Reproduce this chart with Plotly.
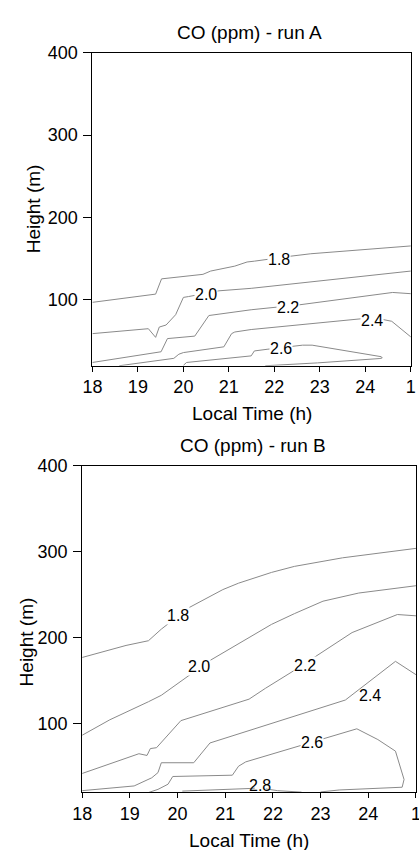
import plotly.graph_objects as go

# ---------------- data (isoline heights) ----------------
TICK_VALS = [18, 19, 20, 21, 22, 23, 24, 25]
TICK_TEXT = ["18", "19", "20", "21", "22", "23", "24", "1"]
Y_TICKS = [100, 200, 300, 400]

# run A
A18_T = [18.0, 19.39, 19.52, 20.43, 20.6, 20.85, 21.13, 21.4, 21.56, 22.35, 22.8, 25.0]
A18_H = [97, 107, 125.5, 131, 135, 138, 141, 146, 147, 153, 156, 165.5]
A20_T = [18.0, 19.23, 19.39, 19.47, 19.62, 19.83, 20.0, 20.11, 20.78, 21.49, 25.0]
A20_H = [59, 65, 54.5, 67, 69.5, 82, 103, 104, 111, 114, 135]
A22_T = [18.0, 18.8, 19.51, 19.65, 20.25, 20.56, 21.49, 22.55, 24.6, 25.0]
A22_H = [24, 31, 37, 53, 56, 81, 88, 94, 109, 107.5]
A24_T = [18.59, 19.79, 19.9, 20.0, 20.89, 21.06, 21.13, 21.49, 23.9, 24.4, 24.58, 25.0]
A24_H = [20, 29, 34, 36, 43, 59, 61, 64, 77, 76, 74, 55]
A26_T = [20.0, 20.07, 21.49, 21.56, 21.84, 22.4, 22.62, 22.83, 24.35, 24.37, 24.32, 22.95, 21.95, 21.8]
A26_H = [20.5, 24, 32, 38, 40, 43.5, 45, 45, 31, 29.5, 28.8, 23.5, 20.5, 20]
A_LABELS = ["1.8", "2.0", "2.2", "2.4", "2.6"]
A_LABEL_T = [22.1, 20.5, 22.3, 24.15, 22.15]
A_LABEL_H = [149, 106.5, 91, 75.5, 41]

# run B
B18_T = [18.0, 18.31, 18.92, 19.39, 19.66, 20.24, 20.61, 20.95, 21.28, 21.45, 21.97, 22.45, 23.46, 25.0]
B18_H = [177, 182, 191, 196.5, 210, 235, 246, 256, 263.5, 266.5, 276, 283, 293, 304]
B20_T = [18.0, 18.58, 19.39, 19.66, 20.68, 21.45, 21.97, 22.45, 23.05, 23.8, 24.59, 25.0]
B20_H = [86.5, 104.5, 125.5, 133, 173.5, 199, 215.5, 228, 242.5, 252, 258, 260.5]
B22_T = [18.0, 19.19, 19.36, 19.43, 19.56, 20.07, 21.5, 21.84, 22.45, 22.92, 23.66, 24.61, 25.0]
B22_H = [42, 65, 63, 71, 72, 103.5, 128.5, 141, 162, 179, 206, 227, 225.5]
B24_T = [18.0, 19.09, 19.46, 19.59, 19.66, 20.34, 20.68, 23.52, 24.57, 25.0]
B24_H = [22, 27.5, 37, 43, 54.5, 54.5, 77.5, 127.5, 172.5, 157]
B26_T = [19.4, 19.59, 19.8, 19.9, 21.15, 21.28, 21.43, 23.76, 24.2, 24.57, 24.75, 24.71, 23.39, 23.0]
B26_H = [20, 23.5, 29.5, 38.5, 40, 50.5, 55.5, 94, 81.5, 68, 35, 26, 22.8, 20.5]
B28_T = [20.1, 21.0, 21.5, 21.62, None, 21.85, 22.1, 22.6]
B28_H = [21.5, 23, 24.5, 25, None, 24, 22, 20.3]
B_LABELS = ["1.8", "2.0", "2.2", "2.4", "2.6", "2.8"]
B_LABEL_T = [20.0, 20.44, 22.67, 24.03, 22.83, 21.72]
B_LABEL_H = [226, 166.6, 167.8, 133, 77.5, 27.5]

# ---------------- figure ----------------
W, H = 440, 850
LINE_COLOR = "#8a8a8a"
FONT = "Liberation Sans, Arial, sans-serif"

fig = go.Figure()

runs_a = [(A18_T, A18_H), (A20_T, A20_H), (A22_T, A22_H), (A24_T, A24_H), (A26_T, A26_H)]
runs_b = [(B18_T, B18_H), (B20_T, B20_H), (B22_T, B22_H), (B24_T, B24_H), (B26_T, B26_H), (B28_T, B28_H)]

for t, h in runs_a:
    fig.add_trace(go.Scatter(x=t, y=h, mode="lines", line=dict(color=LINE_COLOR, width=1),
                             xaxis="x", yaxis="y", showlegend=False, hoverinfo="skip"))
for t, h in runs_b:
    fig.add_trace(go.Scatter(x=t, y=h, mode="lines", line=dict(color=LINE_COLOR, width=1),
                             xaxis="x2", yaxis="y2", showlegend=False, hoverinfo="skip",
                             connectgaps=False))

annotations = []
for txt, t, h in zip(A_LABELS, A_LABEL_T, A_LABEL_H):
    annotations.append(dict(text=txt, x=t, y=h, xref="x", yref="y", showarrow=False,
                            bgcolor="white", borderpad=0,
                            font=dict(size=16, color="black", family=FONT)))
for txt, t, h in zip(B_LABELS, B_LABEL_T, B_LABEL_H):
    bg = "rgba(0,0,0,0)" if txt in ("2.4", "2.8") else "white"
    annotations.append(dict(text=txt, x=t, y=h, xref="x2", yref="y2", showarrow=False,
                            bgcolor=bg, borderpad=0,
                            font=dict(size=16, color="black", family=FONT)))


def px_x(p):
    return p / W


def px_y(p):
    return 1 - p / H


texts = [
    ("CO (ppm) - run A", 247.5, 23, 0),
    ("CO (ppm) - run B", 251.5, 440.5, 0),
    ("Local Time (h)", 250.8, 408, 0),
    ("Local Time (h)", 247.5, 840.5, 0),
    ("Height (m)", 24, 201.5, -90),
    ("Height (m)", 17.5, 639, -90),
]
for txt, x, y, ang in texts:
    annotations.append(dict(text=txt, x=px_x(x), y=px_y(y), xref="paper", yref="paper",
                            xanchor="center", yanchor="middle", showarrow=False,
                            textangle=ang, font=dict(size=19, color="black", family=FONT)))

axis_common = dict(showgrid=False, zeroline=False, showline=True, linecolor="black",
                   linewidth=1, mirror=True, ticks="outside", tickcolor="black",
                   tickfont=dict(size=18, color="black", family=FONT))

fig.update_layout(
    width=W, height=H,
    margin=dict(l=0, r=0, t=0, b=0),
    paper_bgcolor="white", plot_bgcolor="white",
    showlegend=False,
    xaxis=dict(domain=[px_x(85.3), px_x(415)], range=[18, 25], anchor="y",
               tickvals=TICK_VALS, ticktext=TICK_TEXT, ticklen=5, **axis_common),
    yaxis=dict(domain=[px_y(360), px_y(43.3)], range=[20, 400], anchor="x",
               tickvals=Y_TICKS, ticklen=8, ticklabelstandoff=2, **axis_common),
    xaxis2=dict(domain=[px_x(74.7), px_x(420.3)], range=[18, 25], anchor="y2",
                tickvals=TICK_VALS, ticktext=TICK_TEXT, ticklen=5, **axis_common),
    yaxis2=dict(domain=[px_y(791.7), px_y(461.3)], range=[20, 400], anchor="x2",
                tickvals=Y_TICKS, ticklen=8, ticklabelstandoff=2, **axis_common),
    annotations=annotations,
)

fig.write_html("out.html", config=dict(displayModeBar=False),
               post_script="document.body.style.overflow='hidden';"
                           "document.documentElement.style.overflow='hidden';")
